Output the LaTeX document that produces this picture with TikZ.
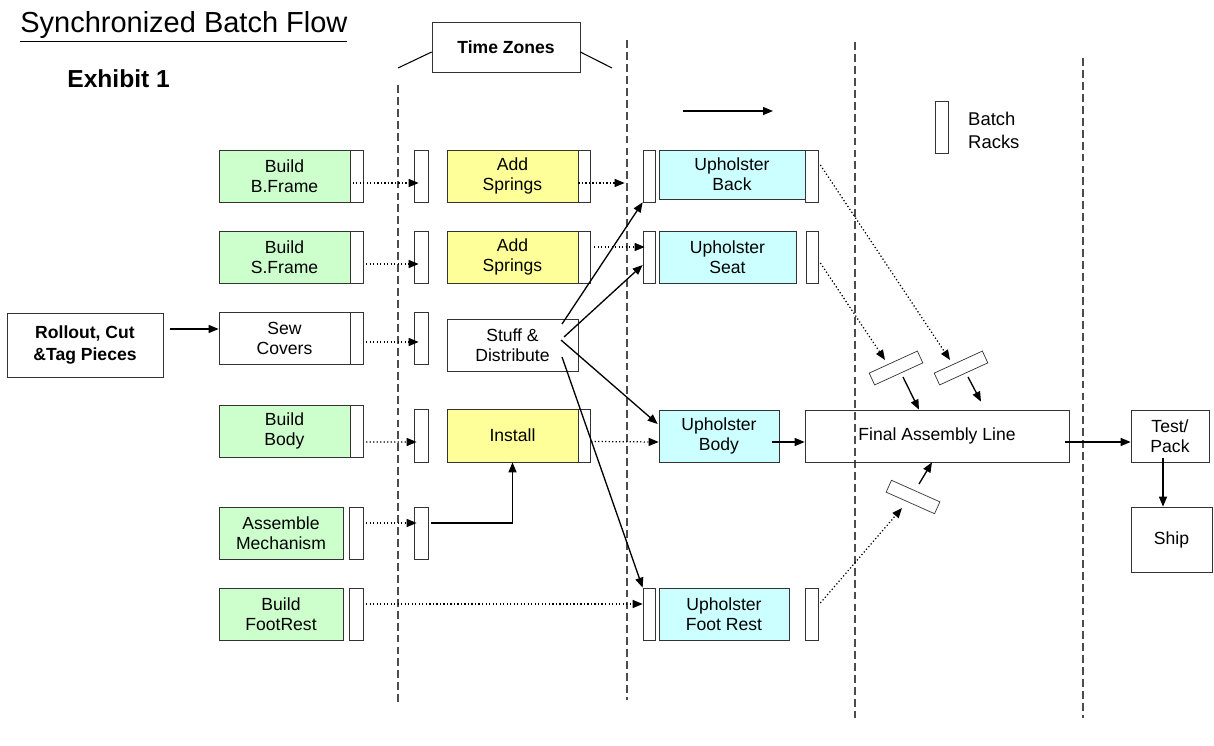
\documentclass[tikz,border=0pt]{standalone}
\usepackage{fontspec}
\setmainfont{Liberation Sans}
\usetikzlibrary{positioning,arrows.meta}
\definecolor{bgreen}{HTML}{CCFFCC}
\definecolor{byellow}{HTML}{FFFF99}
\definecolor{bcyan}{HTML}{CCFFFF}
\definecolor{bline}{HTML}{333333}

\begin{document}
\begin{tikzpicture}[x=0.02cm, y=-0.02cm, font=\fontsize{10}{11.4}\selectfont,
  box/.style={draw=bline, inner sep=0pt, minimum height=1.04cm, align=center},
  gbox/.style={box, fill=bgreen, minimum width=2.62cm},
  ybox/.style={box, fill=byellow, minimum width=2.62cm},
  cbox/.style={box, fill=bcyan},
  rack/.style={draw=bline, fill=white, inner sep=0pt, minimum width=0.26cm, minimum height=1.04cm},
  arr/.style={-{Triangle[length=2mm,width=1.6mm]}, line width=0.75pt},
  dots/.style={-{Triangle[length=2mm,width=1.6mm]}, dash pattern=on 0.7pt off 1.3pt, line width=0.7pt},
  zone/.style={dash pattern=on 4.5pt off 2.3pt, line width=0.6pt, draw=black!70}]
\useasboundingbox (0,0) rectangle (1214,746);
\node[anchor=base west, inner sep=0pt, font=\fontsize{16.5}{20}\selectfont] (title) at (20,33) {\underline{Synchronized Batch Flow}};
\node[anchor=base west, inner sep=0pt, font=\fontsize{14}{16}\selectfont\bfseries] (exh) at (67,88) {Exhibit 1};
\node[box, minimum width=2.96cm, minimum height=1cm, font=\bfseries] (tz) at (506,47) {Time Zones};
\coordinate (tzL) at (398,68); \coordinate (tzR) at (612,68);
\draw[line width=0.6pt] (tzL) -- ([shift={(0,5)}]tz.west); \draw[line width=0.6pt] (tzR) -- ([shift={(0,5)}]tz.east);
\foreach \x/\a/\b in {398/85/705, 627/40/700, 855/42/718, 1083/58/718}
  \draw[zone] (\x,\a) -- (\x,\b);
\coordinate (flowA) at (683,111); \coordinate (flowB) at (773,111);
\draw[arr] (flowA) -- (flowB);
\node[rack] (key) at (941.5,127) {};
\node[anchor=west, align=left, font=\fontsize{10.5}{13}\selectfont] (keytxt) at (962,130) {Batch\\Racks};

% sub-assembly lines
\node[box, minimum width=3.12cm, minimum height=1.28cm, font=\bfseries] (ro) at (85,345) {Rollout, Cut\\\&Tag Pieces};
\node[gbox] (bf) at (284.5,176) {Build\\B.Frame};
\node[rack, right=0pt of bf] (bfR) {};
\node[gbox] (sf) at (284.5,257) {Build\\S.Frame};
\node[rack, right=0pt of sf] (sfR) {};
\node[box, minimum width=2.62cm] (sew) at (284.5,338) {Sew\\Covers};
\node[rack, right=0pt of sew] (sewR) {};
\node[gbox] (bb) at (284.5,431) {Build\\Body};
\node[rack, right=0pt of bb] (bbR) {};
\node[gbox, minimum width=2.48cm] (am) at (281,533) {Assemble\\Mechanism};
\node[rack, minimum width=0.28cm, right=0.12cm of am] (amR) {};
\node[gbox, minimum width=2.48cm] (fr) at (281,614) {Build\\FootRest};
\node[rack, minimum width=0.28cm, right=0.12cm of fr] (frR) {};
\foreach \n/\y in {q1/176, q2/257, q3/338, q5/533}
  \node[rack, minimum width=0.28cm] (\n) at (421,\y) {};
\node[rack, minimum width=0.28cm, minimum height=1.06cm] (q4) at (421,435.5) {};

\node[ybox] (as1) at (512.5,176) {Add\\Springs};
\node[rack, minimum width=0.24cm, right=0pt of as1] (as1R) {};
\node[ybox] (as2) at (512.5,257) {Add\\Springs};
\node[rack, minimum width=0.24cm, right=0pt of as2] (as2R) {};
\node[box, minimum width=2.62cm] (sd) at (512.5,345) {Stuff \&\\Distribute};
\node[ybox, minimum height=1.06cm] (inst) at (512.5,435.5) {Install};
\node[rack, minimum width=0.24cm, minimum height=1.06cm, right=0pt of inst] (instR) {};

\node[cbox, minimum width=2.92cm, minimum height=0.98cm] (ub) at (732,174.5) {Upholster\\Back};
\node[rack, minimum width=0.24cm] (ubL) at (649,176) {};
\node[rack] (ubR) at (811.5,176) {};
\node[cbox, minimum width=2.74cm] (us) at (727.5,257) {Upholster\\Seat};
\node[rack, minimum width=0.24cm] (usL) at (649,257) {};
\node[rack, minimum width=0.24cm] (usR) at (812,257) {};
\node[cbox, minimum width=2.4cm] (ubd) at (719,436) {Upholster\\Body};
\node[cbox, minimum width=2.6cm] (uf) at (724,614) {Upholster\\Foot Rest};
\node[rack, minimum width=0.24cm] (ufL) at (649,614) {};
\node[rack] (ufR) at (811.5,614) {};

\node[box, minimum width=5.28cm] (fal) at (937,436) {Final Assembly Line};
\node[box, minimum width=1.56cm] (tp) at (1170,436) {Test/\\Pack};
\node[box, minimum width=1.62cm, minimum height=1.3cm] (ship) at (1171.5,539.5) {Ship};
\node[rack, minimum width=1.06cm, minimum height=0.26cm, rotate=24.6] (bk1) at (896,368) {};
\node[rack, minimum width=1.06cm, minimum height=0.26cm, rotate=24.6] (bk2) at (961,368) {};
\node[rack, minimum width=1.06cm, minimum height=0.26cm, rotate=-24] (bk3) at (913,497) {};

\draw[arr] ([shift={(7,-16)}]ro.east) -- ([shift={(0,-9)}]sew.west);
\draw[dots] ([shift={(-4.5,7)}]bfR.center) -- ([shift={(5,7)}]q1.west);
\draw[dots] ([shift={(2,7)}]sfR.east) -- ([shift={(5,7)}]q2.west);
\draw[dots] ([shift={(2,4)}]sewR.east) -- ([shift={(5,4)}]q3.west);
\draw[dots] ([shift={(2,11)}]bbR.east) -- ([shift={(3,6.5)}]q4.west);
\draw[dots] ([shift={(2,-10)}]amR.east) -- ([shift={(3,-10)}]q5.west);
\draw[dots] ([shift={(2,-10)}]frR.east) -- ([shift={(0,-10)}]ufL.west);
\draw[arr] ([shift={(3,-10)}]q5.east) -| (inst.south);
\draw[dots] ([shift={(0,7)}]as1R.west) -- ([shift={(-18,7)}]ubL.west);
\draw[dots] ([shift={(3,-10)}]as2R.east) -- ([shift={(2,-10)}]usL.west);
\draw[dots] ([shift={(0,6)}]instR.east) -- ([shift={(0,6)}]ubd.west);
\draw[arr] ([shift={(49.5,-21)}]sd.center) -- (ubL.south west);
\draw[arr] ([shift={(51.5,-8)}]sd.center) -- ([shift={(0,8)}]usL.west);
\draw[arr] ([shift={(48.5,-5)}]sd.center) -- ([shift={(-1,-12)}]ubd.west);
\draw[arr] ([shift={(49.5,12)}]sd.center) -- (ufL.north west);
% racks feeding the final line
\draw[dots] ([shift={(2,-11)}]ubR.east) -- ([shift={(-11,-8)}]bk2.center);
\draw[dots] ([shift={(2,6)}]usR.east) -- ([shift={(-11,-8)}]bk1.center);
\draw[dots] ([shift={(2,-11)}]ufR.east) -- ([shift={(-11,11)}]bk3.center);
\draw[arr] ([shift={(7,9)}]bk1.center) -- ([shift={(-18,0)}]fal.north);
\draw[arr] ([shift={(7,9)}]bk2.center) -- ([shift={(44,-8)}]fal.north);
\draw[arr] ([shift={(6,-13)}]bk3.center) -- ([shift={(-5,0)}]fal.south);
\draw[arr] ([shift={(-7,6)}]ubd.east) -- ([shift={(0,6)}]fal.west);
\draw[arr] ([shift={(-4,6)}]fal.east) -- ([shift={(0,6)}]tp.west);
\draw[arr] ([shift={(-7,-4)}]tp.south) -- ([shift={(-8.5,0)}]ship.north);
\end{tikzpicture}
\end{document}
